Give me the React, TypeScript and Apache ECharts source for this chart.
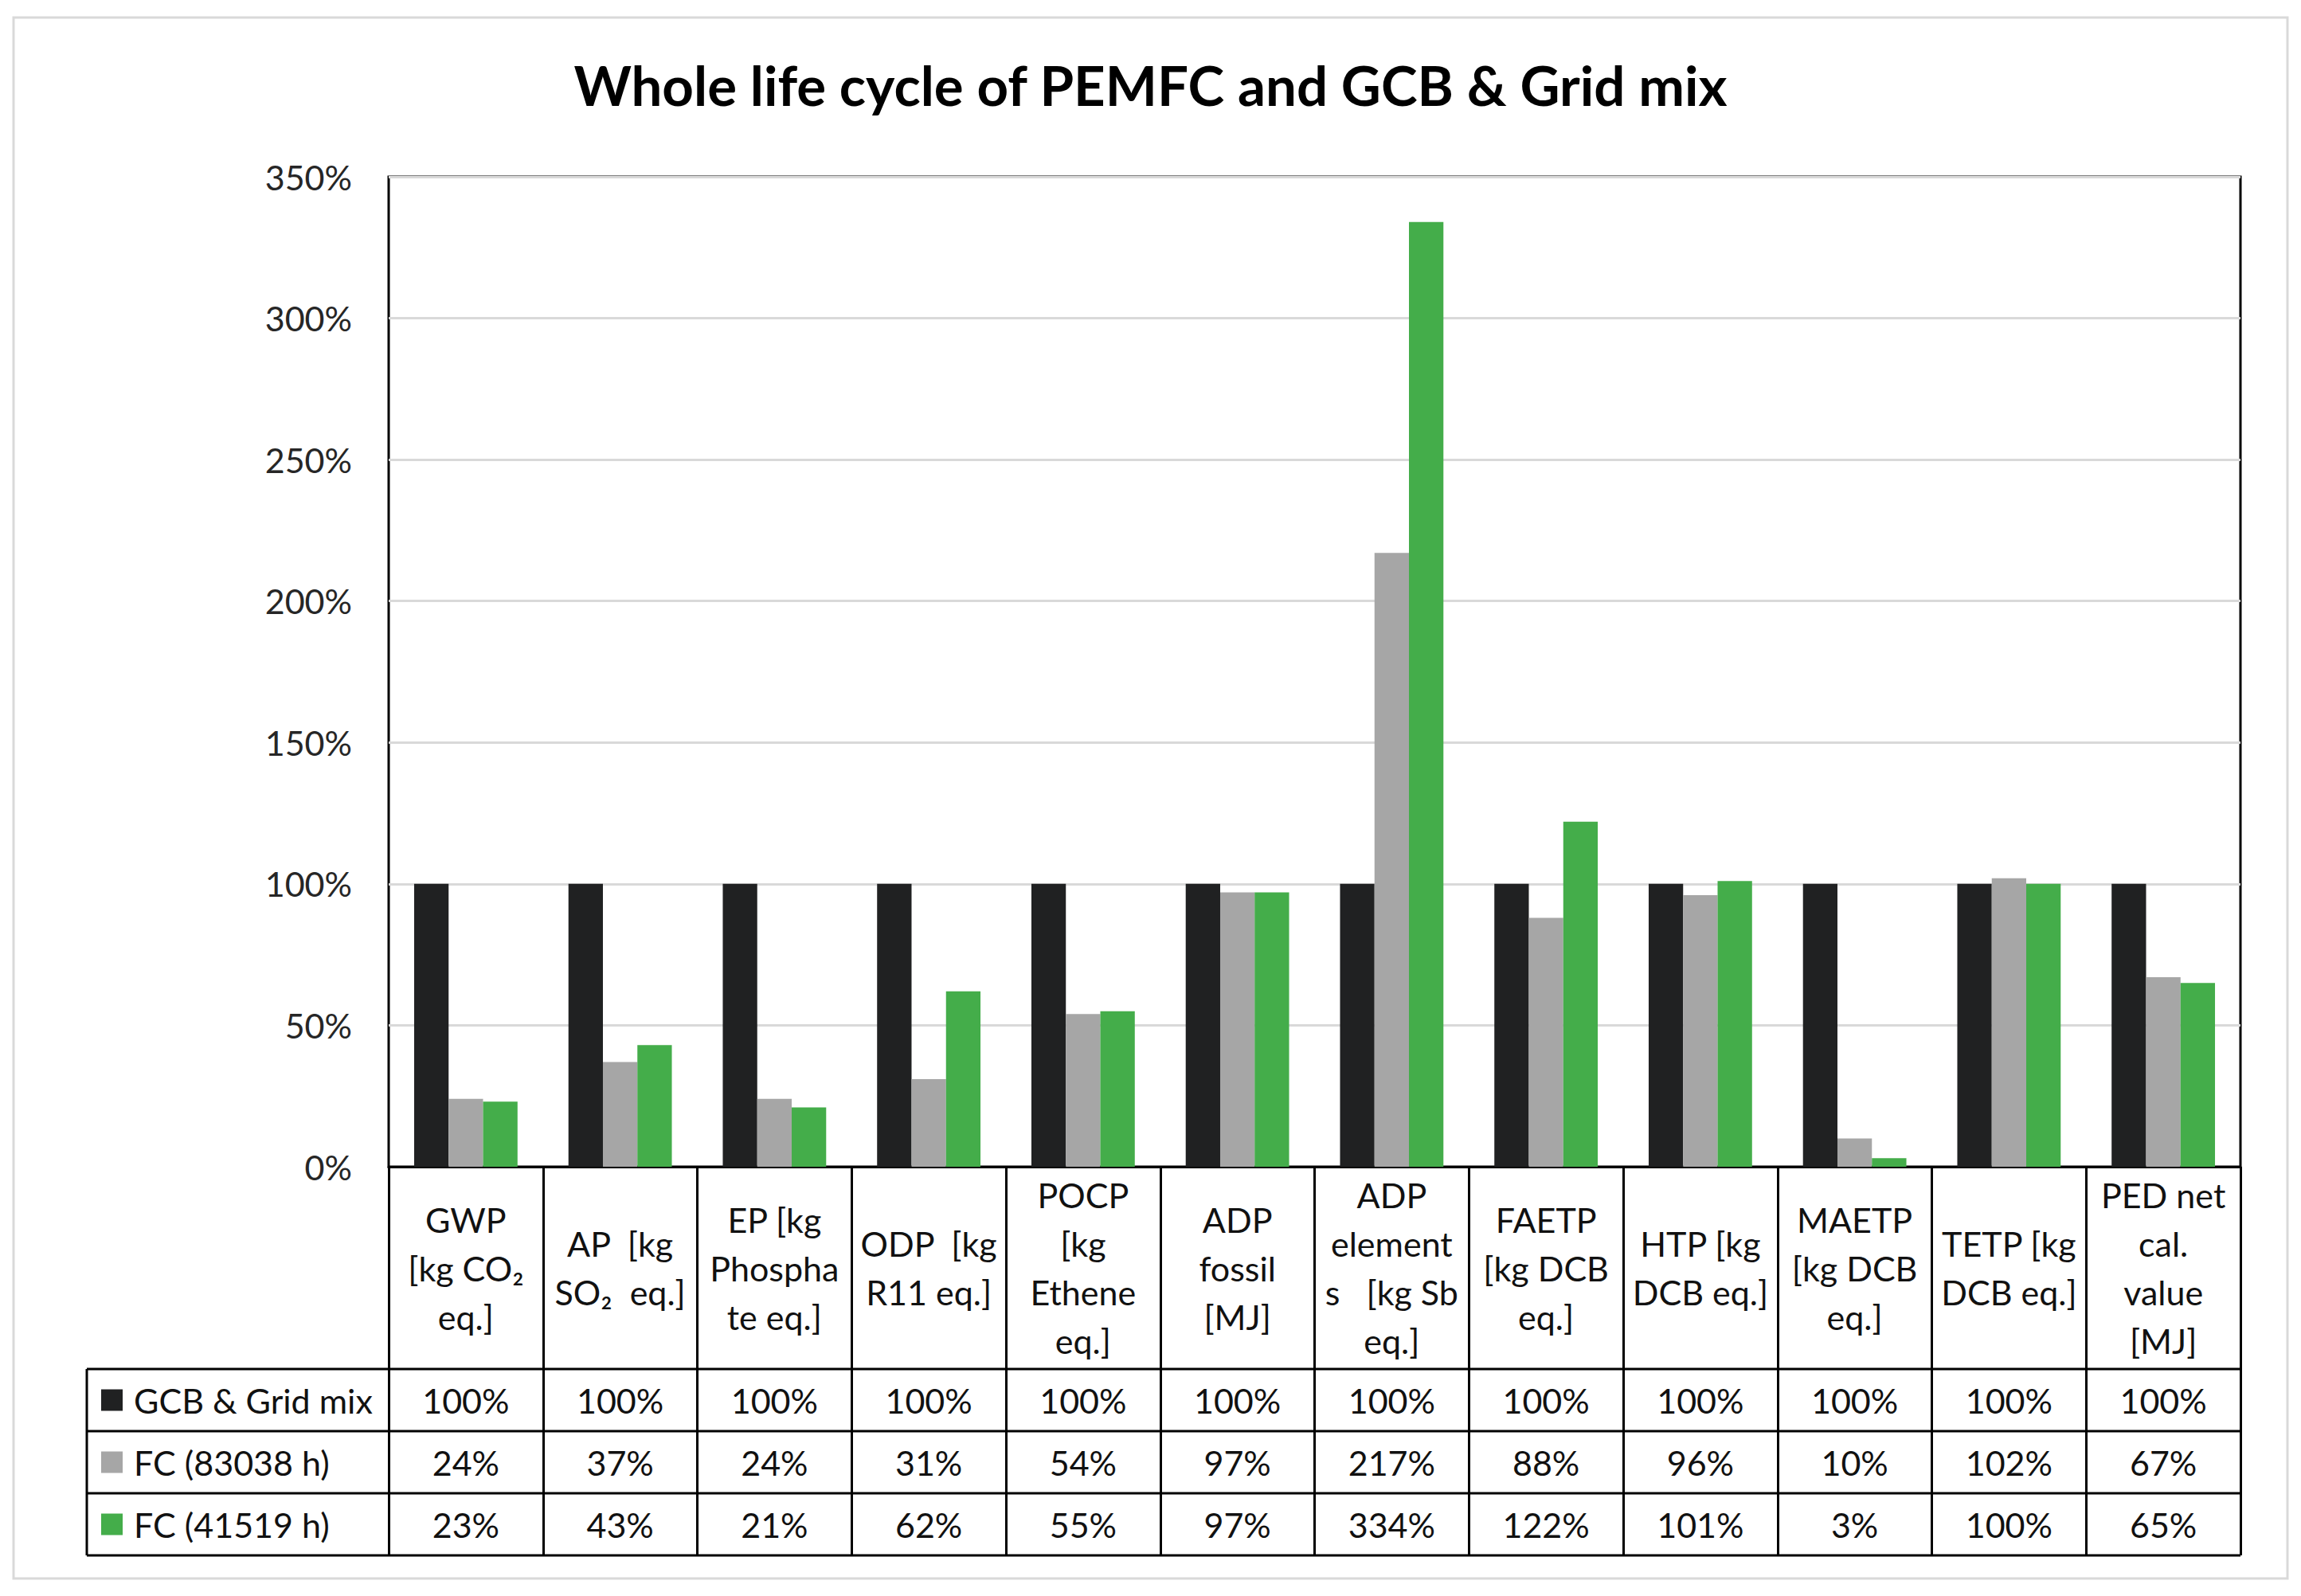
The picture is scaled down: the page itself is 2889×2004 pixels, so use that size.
import React, { useEffect, useRef } from "react";
import * as echarts from "echarts";

const categories = [
  "GWP\n[kg CO₂\neq.]",
  "AP  [kg\nSO₂  eq.]",
  "EP [kg\nPhospha\nte eq.]",
  "ODP  [kg\nR11 eq.]",
  "POCP\n[kg\nEthene\neq.]",
  "ADP\nfossil\n[MJ]",
  "ADP\nelement\ns   [kg Sb\neq.]",
  "FAETP\n[kg DCB\neq.]",
  "HTP [kg\nDCB eq.]",
  "MAETP\n[kg DCB\neq.]",
  "TETP [kg\nDCB eq.]",
  "PED net\ncal.\nvalue\n[MJ]",
];

const seriesNames = ["GCB & Grid mix", "FC (83038 h)", "FC (41519 h)"];
const gcbGrid = [100, 100, 100, 100, 100, 100, 100, 100, 100, 100, 100, 100];
const fc83038 = [24, 37, 24, 31, 54, 97, 217, 88, 96, 10, 102, 67];
const fc41519 = [23, 43, 21, 62, 55, 97, 334, 122, 101, 3, 100, 65];
const seriesColors = ["#202122", "#a6a6a6", "#44ad4a"];

const yMin = 0;
const yMax = 350;
const yInterval = 50;

const titleText = "Whole life cycle of PEMFC and GCB & Grid mix";

const FONT = "Lato, 'Open Sans', sans-serif";

export default function App() {
  const ref = useRef<HTMLDivElement>(null);

  useEffect(() => {
    if (!ref.current) return;
    const chart = echarts.init(ref.current, null, { renderer: "svg" });

    const gridLeft = 488;
    const gridRight = 2813;
    const gridTop = 222;
    const gridBottom = 1465;
    const tableLeft = 109;
    const rowLines = [1719, 1797, 1875, 1953];
    const rowCenters = [1758, 1836, 1914];
    const catCenter = 1592;
    const lineColor = "#000";
    const textColor = "#111";

    const allValues = [gcbGrid, fc83038, fc41519];

    const valueAxes = allValues.map((vals, r) => ({
      type: "category",
      gridIndex: 0,
      position: "bottom",
      data: categories,
      axisLine: { show: false },
      axisTick: { show: false },
      splitLine: { show: false },
      axisLabel: {
        show: true,
        interval: 0,
        margin: rowCenters[r] - gridBottom,
        verticalAlign: "middle",
        fontFamily: FONT,
        fontSize: 43,
        color: textColor,
        formatter: (_v: string, i: number) => `${vals[i]}%`,
      },
    }));

    const legends = seriesNames.map((name, r) => ({
      data: [name],
      orient: "vertical",
      left: 127,
      top: rowCenters[r] - 25,
      selectedMode: false,
      icon: "rect",
      itemWidth: 27,
      itemHeight: 27,
      padding: 0,
      textStyle: {
        fontFamily: FONT,
        fontSize: 43,
        lineHeight: 50,
        color: textColor,
        padding: [0, 0, 0, 9],
      },
    }));

    const graphics: any[] = [
      {
        type: "rect",
        shape: { x: 17, y: 22, width: 2855, height: 1960 },
        style: { fill: "none", stroke: "#d9d9d9", lineWidth: 3 },
        silent: true,
        z: 0,
      },
      ...rowLines.map((y) => ({
        type: "line",
        shape: { x1: tableLeft, y1: y, x2: gridRight, y2: y },
        style: { stroke: lineColor, lineWidth: 3 },
        silent: true,
        z: 10,
      })),
      {
        type: "line",
        shape: { x1: tableLeft, y1: rowLines[0], x2: tableLeft, y2: rowLines[3] },
        style: { stroke: lineColor, lineWidth: 3 },
        silent: true,
        z: 10,
      },
    ];

    chart.setOption({
      animation: false,
      backgroundColor: "#ffffff",
      title: {
        text: titleText,
        left: "center",
        top: 67,
        textStyle: {
          fontFamily: FONT,
          fontWeight: "bold",
          fontSize: 69,
          color: "#000",
        },
      },
      legend: legends,
      grid: {
        left: gridLeft,
        top: gridTop,
        width: gridRight - gridLeft,
        height: gridBottom - gridTop,
        show: true,
        borderColor: lineColor,
        borderWidth: 3,
        backgroundColor: "transparent",
        containLabel: false,
      },
      xAxis: [
        {
          type: "category",
          gridIndex: 0,
          position: "bottom",
          data: categories,
          axisLine: { show: true, lineStyle: { color: lineColor, width: 3 } },
          axisTick: {
            show: true,
            interval: 0,
            alignWithLabel: false,
            length: rowLines[3] - gridBottom,
            lineStyle: { color: lineColor, width: 3 },
          },
          axisLabel: {
            interval: 0,
            margin: catCenter - gridBottom,
            verticalAlign: "middle",
            align: "center",
            fontFamily: FONT,
            fontSize: 43,
            lineHeight: 61,
            color: textColor,
          },
          splitLine: { show: false },
        },
        ...valueAxes,
      ],
      yAxis: {
        type: "value",
        min: yMin,
        max: yMax,
        interval: yInterval,
        axisLine: { show: false },
        axisTick: { show: false },
        splitLine: { show: true, lineStyle: { color: "#d9d9d9", width: 3 } },
        axisLabel: {
          formatter: "{value}%",
          margin: 46,
          fontFamily: FONT,
          fontSize: 43,
          color: "#262626",
        },
      },
      series: allValues.map((vals, r) => ({
        name: seriesNames[r],
        type: "bar",
        xAxisIndex: 0,
        yAxisIndex: 0,
        data: vals,
        barGap: "0%",
        barCategoryGap: "33%",
        itemStyle: { color: seriesColors[r] },
        z: 2,
      })),
      graphic: graphics,
    });

    return () => chart.dispose();
  }, []);

  return (
    <div
      ref={ref}
      style={{ position: "absolute", left: 0, top: 0, width: 2889, height: 2004 }}
    />
  );
}
